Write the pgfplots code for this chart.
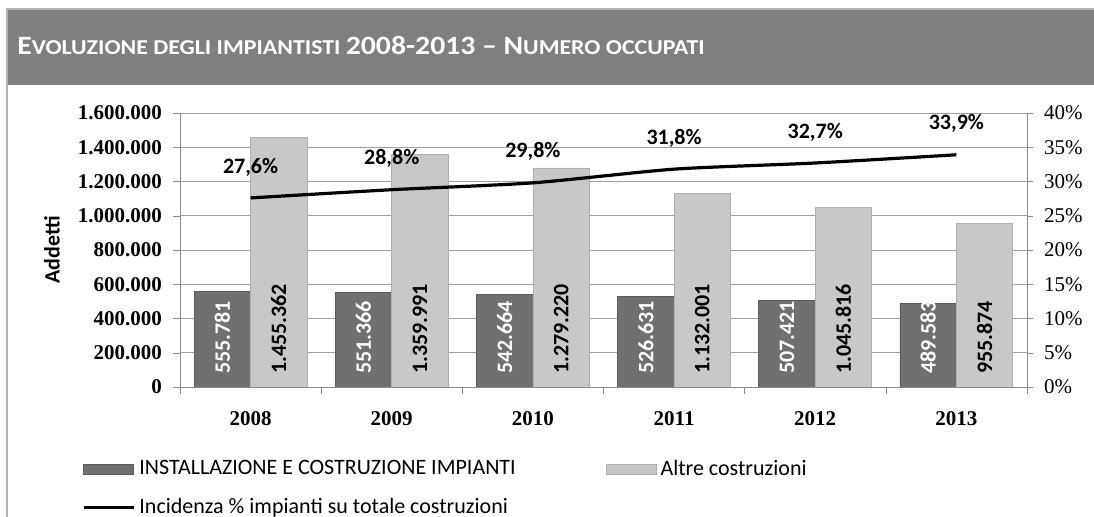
\documentclass[border=0pt]{standalone}
\usepackage{pgfplots}
\pgfplotsset{compat=1.18}
\usepackage{pgfplotstable}
\usepackage{fontspec}
\setmainfont{Carlito}
\newfontfamily\tickserif{Liberation Serif}

\definecolor{band}{HTML}{7F7F7F}
\definecolor{frameline}{HTML}{B4B4B4}
\definecolor{darkbar}{HTML}{707070}
\definecolor{darkedge}{HTML}{5C5C5C}
\definecolor{lightbar}{HTML}{C8C8C8}
\definecolor{lightedge}{HTML}{B0B0B0}
\definecolor{gridgray}{HTML}{A0A0A0}
\definecolor{axisgray}{HTML}{8C8C8C}

\newcommand{\tbig}{\fontsize{13.2}{15}\selectfont}
\newcommand{\tsm}{\fontsize{10.6}{12}\selectfont}

% occupati per anno
\pgfplotstableread{
x anno impianti altre incid impL altL incL
0 2008 555781 1455362 27.6 555.781 1.455.362 27,6
1 2009 551366 1359991 28.8 551.366 1.359.991 28,8
2 2010 542664 1279220 29.8 542.664 1.279.220 29,8
3 2011 526631 1132001 31.8 526.631 1.132.001 31,8
4 2012 507421 1045816 32.7 507.421 1.045.816 32,7
5 2013 489583 955874 33.9 489.583 955.874 33,9
}\dati

\begin{document}
\begin{tikzpicture}
\useasboundingbox (0,0) rectangle (547pt,258.5pt);
% cornice e banda del titolo
\fill[frameline] (3pt,0) rectangle (4pt,254.5pt);
\fill[frameline] (3pt,253.5pt) rectangle (547pt,254.5pt);
\fill[band] (4pt,216pt) rectangle (547pt,253.5pt);
\node[anchor=base west, inner sep=0pt, text=white, font=\bfseries] at (8.5pt,231pt)
  {\scalebox{1.125}[1]{\tbig E\tsm VOLUZIONE DEGLI IMPIANTISTI \tbig 2008-2013 – N\tsm UMERO OCCUPATI}};
\node[rotate=90, font=\fontsize{11}{13}\selectfont\bfseries] at (26pt,133.5pt) {Addetti};

\begin{axis}[
    at={(90pt,65pt)}, anchor=south west, scale only axis,
    width=423.5pt, height=137pt,
    xmin=-0.5, xmax=5.5, ymin=0, ymax=1600000,
    axis lines*=left,
    axis line style={axisgray},
    tick style={axisgray},
    tick align=outside,
    major tick length=3.5pt,
    minor tick length=3.5pt,
    xtick={0,...,5},
    xticklabels={2008,2009,2010,2011,2012,2013},
    minor xtick={-0.5,0.5,...,5.5},
    major x tick style={draw=none},
    ytick={0,200000,...,1600000},
    scaled y ticks=false,
    ymajorgrids,
    grid style={gridgray},
    /pgf/number format/assume math mode=true,
    yticklabel style={/pgf/number format/fixed, /pgf/number format/1000 sep={.},
        font=\tickserif\bfseries\fontsize{10.5}{12}\selectfont, xshift=-2pt},
    xticklabel style={font=\tickserif\bfseries\fontsize{10.5}{12}\selectfont, yshift=-5pt},
    legend columns=2,
    legend cell align=left,
    legend style={at={(axis description cs:-0.123,-0.235)}, anchor=north west,
        draw=none, fill=none, font=\fontsize{11}{13}\selectfont,
        /tikz/every even column/.append style={column sep=43pt}, row sep=6pt},
]

\addplot[ybar, bar width=0.4, bar shift=-0.2, fill=darkbar, draw=darkedge,
    point meta=explicit symbolic, nodes near coords,
    visualization depends on=rawy\as\rawy,
    every node near coord/.append style={shift={(axis direction cs:-0.2,-\rawy)}, yshift=3pt,
        rotate=90, anchor=west, text=white,
        font=\fontsize{11}{13}\selectfont\bfseries},
    legend image code/.code={\draw[draw=darkedge, fill=darkbar] (0pt,-2.5pt) rectangle (25pt,2.5pt);}]
    table[x=x, y=impianti, meta=impL]{\dati};
\addlegendentry{INSTALLAZIONE E COSTRUZIONE IMPIANTI}

\addplot[ybar, bar width=0.4, bar shift=0.2, fill=lightbar, draw=lightedge,
    point meta=explicit symbolic, nodes near coords,
    visualization depends on=rawy\as\rawy,
    every node near coord/.append style={shift={(axis direction cs:0.2,-\rawy)}, yshift=3pt,
        rotate=90, anchor=west, text=black,
        font=\fontsize{11}{13}\selectfont\bfseries},
    legend image code/.code={\draw[draw=lightedge, fill=lightbar] (0pt,-2.5pt) rectangle (25pt,2.5pt);}]
    table[x=x, y=altre, meta=altL]{\dati};
\addlegendentry{Altre costruzioni}

\addlegendimage{legend image code/.code={\draw[black, line width=1.6pt] (0pt,0pt) -- (25pt,0pt);}}
\addlegendentry{Incidenza \% impianti su totale costruzioni}
\end{axis}

\begin{axis}[
    at={(90pt,65pt)}, anchor=south west, scale only axis,
    width=423.5pt, height=137pt,
    xmin=-0.5, xmax=5.5, ymin=0, ymax=40,
    axis x line=none, axis y line*=right,
    axis line style={axisgray},
    tick style={axisgray},
    tick align=outside,
    major tick length=3pt,
    ytick={0,5,...,40},
    /pgf/number format/assume math mode=true,
    yticklabel={\pgfmathprintnumber{\tick}\%},
    yticklabel style={font=\tickserif\fontsize{10.5}{12}\selectfont, xshift=2pt},
]
\addplot[black, line width=1.6pt, smooth, tension=0.4, mark=none,
    point meta=explicit symbolic,
    nodes near coords={\pgfplotspointmeta\%},
    every node near coord/.append style={anchor=center, yshift=15.5pt, text=black,
        font=\fontsize{11}{13}\selectfont\bfseries}]
    table[x=x, y=incid, meta=incL]{\dati};
\end{axis}
\end{tikzpicture}
\end{document}
